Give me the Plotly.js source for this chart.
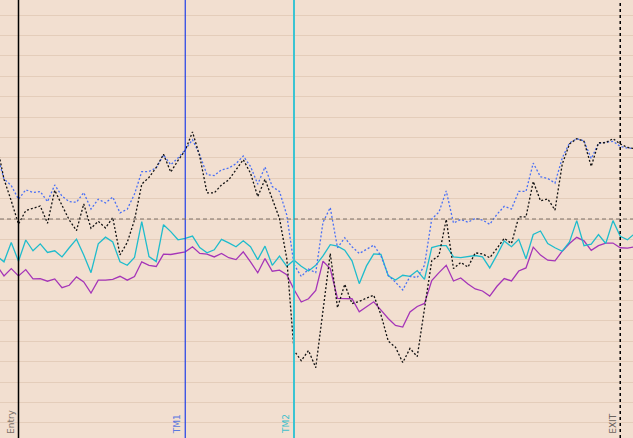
<!DOCTYPE html>
<html><head><meta charset="utf-8">
<script src="https://cdn.plot.ly/plotly-3.0.1.min.js"></script>
<style>html,body{margin:0;padding:0;background:#f2dfd0;}#chart{width:633px;height:438px;}</style>
</head><body><div id="chart"></div>
<script>
const blackSeries = [3.69,1.95,0.89,-0.25,0.41,0.53,0.64,-0.21,1.41,0.67,-0.05,-0.57,0.74,-0.46,-0.11,-0.44,0.07,-1.76,-1.15,-0.05,1.71,2.04,2.53,3.17,2.30,2.87,3.37,4.27,3.07,1.28,1.28,1.67,1.92,2.41,2.91,2.25,1.10,1.95,0.94,0.03,-1.94,-6.45,-6.95,-6.45,-7.29,-4.40,-1.69,-4.35,-3.20,-4.15,-4.04,-3.88,-3.74,-4.70,-5.99,-6.29,-7.04,-6.35,-6.75,-4.40,-2.05,-1.79,-0.02,-2.43,-2.13,-2.36,-1.66,-1.71,-1.90,-1.44,-0.95,-1.20,0.10,0.10,1.84,0.89,0.99,0.44,2.69,3.68,3.94,3.81,2.58,3.74,3.74,3.94,3.68,3.51,3.45];
const blueSeries = [3.20,1.97,1.64,0.97,1.43,1.30,1.35,0.85,1.67,1.12,0.85,0.82,1.30,0.49,0.97,0.79,1.08,0.30,0.48,1.22,2.32,2.33,2.51,3.14,2.66,2.99,3.40,3.89,3.15,2.17,2.13,2.41,2.50,2.71,3.09,2.58,1.71,2.55,1.59,1.35,0.20,-2.23,-2.82,-2.46,-2.63,-0.16,0.56,-1.41,-0.92,-1.36,-1.69,-1.49,-1.28,-1.81,-2.76,-3.10,-3.48,-2.82,-2.87,-2.27,0.00,0.34,1.38,-0.20,-0.02,-0.16,0.03,-0.05,-0.26,0.23,0.62,0.49,1.35,1.35,2.74,2.07,1.99,1.76,2.99,3.73,3.94,3.83,2.96,3.71,3.76,3.81,3.56,3.48,3.45];
const cyanSeries = [-1.81,-2.10,-1.15,-2.07,-1.03,-1.56,-1.22,-1.64,-1.56,-1.86,-1.41,-0.99,-1.77,-2.63,-1.22,-0.89,-1.13,-2.10,-2.27,-1.89,-0.13,-1.84,-2.09,-0.28,-0.62,-1.02,-0.95,-0.84,-1.40,-1.66,-1.51,-1.00,-1.17,-1.36,-1.07,-1.36,-1.99,-1.33,-2.27,-1.82,-2.32,-2.02,-2.32,-2.55,-2.27,-1.81,-1.26,-1.33,-1.53,-2.05,-3.17,-2.30,-1.71,-1.74,-2.78,-2.99,-2.76,-2.81,-2.53,-2.96,-1.40,-1.31,-1.31,-1.86,-1.89,-1.84,-1.79,-1.86,-2.40,-1.76,-1.08,-1.36,-1.00,-1.95,-0.76,-0.59,-1.20,-1.41,-1.58,-1.12,-0.08,-1.31,-1.23,-0.76,-1.20,-0.08,-0.85,-1.02,-0.71];
const purpleSeries = [-2.28,-2.79,-2.43,-2.79,-2.48,-2.94,-2.92,-3.05,-2.94,-3.37,-3.25,-2.84,-3.09,-3.63,-3.00,-3.00,-2.96,-2.81,-3.00,-2.82,-2.10,-2.27,-2.33,-1.72,-1.74,-1.69,-1.61,-1.36,-1.69,-1.72,-1.86,-1.69,-1.90,-1.99,-1.61,-2.10,-2.64,-1.94,-2.56,-2.51,-2.73,-3.46,-4.07,-3.91,-3.50,-2.07,-2.43,-3.89,-3.89,-3.91,-4.55,-4.30,-4.06,-4.47,-4.88,-5.22,-5.30,-4.56,-4.29,-4.14,-3.02,-2.63,-2.27,-3.04,-2.89,-3.19,-3.43,-3.53,-3.78,-3.30,-2.92,-3.04,-2.55,-2.40,-1.38,-1.77,-2.02,-2.05,-1.58,-1.20,-0.90,-1.07,-1.54,-1.31,-1.18,-1.18,-1.41,-1.43,-1.36];
const markerNames = ["Entry","TM1","TM2","EXIT"];
const markerIdx = [3,26,41,86];

const xs = blackSeries.map((_, i) => i);
const mk = (y, color, dash) => ({x: xs, y: y, type: 'scatter', mode: 'lines',
  line: {color: color, width: 1.3, dash: dash}, hoverinfo: 'skip'});
const traces = [
  mk(purpleSeries, '#a535b8', 'solid'),
  mk(cyanSeries, '#1fbccc', 'solid'),
  mk(blueSeries, '#4a70f5', '2px,2px'),
  mk(blackSeries, '#111111', '2px,2px')
];
const vstyle = [
  {color:'#000000', width:1.5, dash:'solid'},
  {color:'#2040e8', width:1.2, dash:'solid'},
  {color:'#3cc4d2', width:2, dash:'solid'},
  {color:'#000000', width:1.5, dash:'dot'}
];
const labelColor = ['#7a7068','#5a78e0','#3cc0cc','#6a625c'];
const shapes = markerIdx.map((xv, k) => ({type:'line', xref:'x', yref:'paper', x0:xv, x1:xv, y0:0, y1:1, line: vstyle[k], layer:'above'}));
shapes.push({type:'line', xref:'paper', yref:'y', x0:0, x1:1, y0:0, y1:0, line:{color:'#7a6e66', width:1, dash:'4px,3px'}});
const annotations = markerIdx.map((xv, k) => ({x: xv, xref:'x', y: 0, yref:'paper', text: markerNames[k], textangle: -90,
  xanchor:'right', yanchor:'bottom', xshift:-1, yshift:2, showarrow:false, font:{family:'DejaVu Sans', size:9, color: labelColor[k]}}));

const layout = {
  width: 633, height: 438, margin: {l:0, r:0, t:0, b:0},
  paper_bgcolor: '#f2dfd0', plot_bgcolor: '#f2dfd0', showlegend: false,
  xaxis: {range: [0.448, 87.76], showgrid: false, zeroline: false, showticklabels: false, ticks: ''},
  yaxis: {range: [-10.74, 10.74], dtick: 1, tick0: 0, showgrid: true, gridcolor: '#e4cdba', gridwidth: 1,
    zeroline: false, showticklabels: false, ticks: ''},
  shapes: shapes, annotations: annotations
};
Plotly.newPlot('chart', traces, layout, {staticPlot: true, displayModeBar: false});
</script></body></html>
